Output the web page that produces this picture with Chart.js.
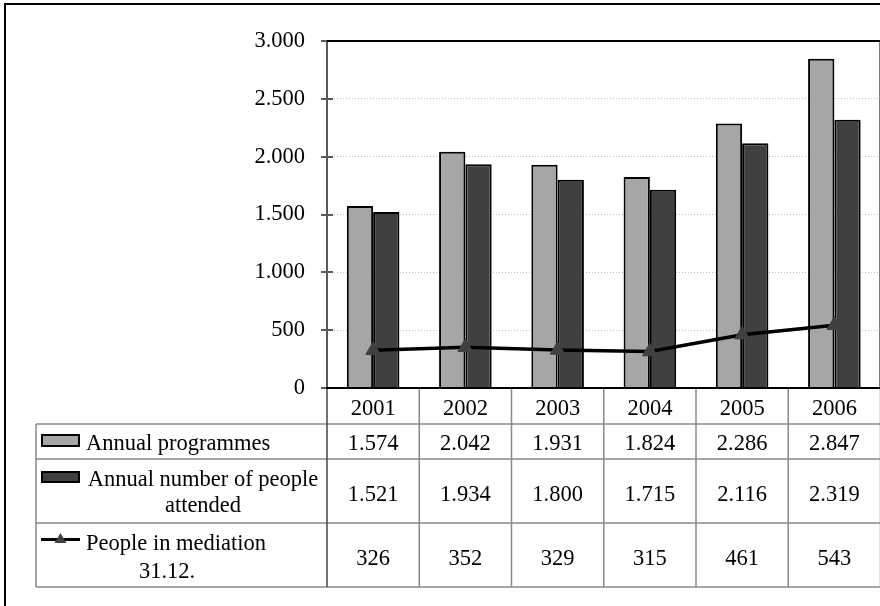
<!DOCTYPE html>
<html>
<head>
<meta charset="utf-8">
<script src="https://cdn.jsdelivr.net/npm/chart.js@4.4.1/dist/chart.umd.min.js"></script>
<style>
  html, body { margin: 0; padding: 0; background: #fff; overflow: hidden; }
  canvas { display: block; }
</style>
</head>
<body>
<canvas id="mediationChart" width="890" height="606"></canvas>
<script>
const years = ['2001', '2002', '2003', '2004', '2005', '2006'];
const programmes = [1574, 2042, 1931, 1824, 2286, 2847];
const attended = [1521, 1934, 1800, 1715, 2116, 2319];
const mediation = [326, 352, 329, 315, 461, 543];

const SERIF = '"Liberation Serif", "Times New Roman", serif';
const FONT = '22.5px ' + SERIF;

// 2847 -> "2.847"
function fmt(v) {
    if (v < 1000) return String(v);
    return Math.floor(v / 1000) + '.' + String(v % 1000).padStart(3, '0');
}

// frame, axis ticks and the data table under the plot
const tablePlugin = {
    id: 'dataTable',
    afterDraw(chart) {
        const ctx = chart.ctx;
        const area = chart.chartArea;
        const xs = chart.scales.x;
        const ys = chart.scales.y;
        const step = xs.getPixelForValue(1) - xs.getPixelForValue(0);
        const rowTops = [area.bottom, 424, 459, 523, 587];
        const labelLeft = 36;
        ctx.save();

        // outer frame
        ctx.strokeStyle = '#000';
        ctx.lineWidth = 2;
        ctx.strokeRect(5, 4, 1000, 800);

        // y tick marks crossing the axis
        ctx.strokeStyle = '#595959';
        ctx.lineWidth = 2;
        ys.ticks.forEach(t => {
            const y = Math.round(ys.getPixelForValue(t.value));
            ctx.beginPath();
            ctx.moveTo(area.left - 6, y);
            ctx.lineTo(area.left + 6, y);
            ctx.stroke();
        });

        // table grid
        ctx.strokeStyle = '#8a8a8a';
        ctx.lineWidth = 1.5;
        for (let r = 1; r < rowTops.length; r++) {
            ctx.beginPath();
            ctx.moveTo(labelLeft, rowTops[r]);
            ctx.lineTo(chart.width, rowTops[r]);
            ctx.stroke();
        }
        ctx.beginPath();
        ctx.moveTo(labelLeft, rowTops[1]);
        ctx.lineTo(labelLeft, rowTops[4]);
        ctx.stroke();
        years.forEach((_, i) => {
            const bx = xs.getPixelForValue(i) + step / 2;
            ctx.beginPath();
            ctx.moveTo(bx, area.bottom);
            ctx.lineTo(bx, rowTops[4]);
            ctx.stroke();
        });
        ctx.strokeStyle = '#444';
        ctx.beginPath();
        ctx.moveTo(area.left, area.bottom);
        ctx.lineTo(area.left, rowTops[4]);
        ctx.stroke();

        // plot frame: top and bottom in black
        ctx.strokeStyle = '#000';
        ctx.lineWidth = 2;
        ctx.beginPath();
        ctx.moveTo(area.left, area.top);
        ctx.lineTo(area.right, area.top);
        ctx.lineTo(area.right, area.bottom);
        ctx.lineTo(area.left - 1, area.bottom);
        ctx.stroke();

        // table text
        ctx.font = FONT;
        ctx.fillStyle = '#000';
        ctx.textAlign = 'center';
        ctx.textBaseline = 'alphabetic';
        years.forEach((yr, i) => {
            const cx = xs.getPixelForValue(i);
            ctx.fillText(yr, cx, 415);
            ctx.fillText(fmt(programmes[i]), cx, 450);
            ctx.fillText(fmt(attended[i]), cx, 501);
            ctx.fillText(fmt(mediation[i]), cx, 565);
        });

        // row labels with legend keys
        ctx.textAlign = 'left';
        ctx.fillText('Annual programmes', 86, 450);
        ctx.textAlign = 'center';
        ctx.fillText('Annual number of people', 203, 486);
        ctx.fillText('attended', 203, 512);
        ctx.fillText('People in mediation', 176, 550);
        ctx.fillText('31.12.', 167, 578);

        ctx.lineWidth = 2;
        ctx.strokeStyle = '#000';
        ctx.fillStyle = '#a6a6a6';
        ctx.fillRect(42, 435, 37, 11);
        ctx.strokeRect(42, 435, 37, 11);
        ctx.fillStyle = '#404040';
        ctx.fillRect(42, 472, 37, 10);
        ctx.strokeRect(42, 472, 37, 10);

        ctx.lineWidth = 3;
        ctx.beginPath();
        ctx.moveTo(41, 539.5);
        ctx.lineTo(80, 539.5);
        ctx.stroke();
        ctx.fillStyle = '#404040';
        ctx.beginPath();
        ctx.moveTo(60.5, 533);
        ctx.lineTo(66.5, 543);
        ctx.lineTo(54.5, 543);
        ctx.closePath();
        ctx.fill();

        ctx.restore();
    }
};

const ctx = document.getElementById('mediationChart').getContext('2d');
new Chart(ctx, {
    data: {
        labels: years,
        datasets: [
            {
                type: 'line',
                label: 'People in mediation 31.12.',
                data: mediation,
                borderColor: '#000',
                borderWidth: 3.5,
                tension: 0,
                pointStyle: 'triangle',
                pointRadius: 8.5,
                pointBackgroundColor: '#404040',
                pointBorderColor: '#404040',
                pointBorderWidth: 1,
                order: 0
            },
            {
                type: 'bar',
                label: 'Annual programmes',
                data: programmes,
                backgroundColor: '#a6a6a6',
                borderColor: '#000',
                borderWidth: 2,
                categoryPercentage: 0.57,
                barPercentage: 1.0,
                order: 1
            },
            {
                type: 'bar',
                label: 'Annual number of people attended',
                data: attended,
                backgroundColor: '#404040',
                borderColor: '#000',
                borderWidth: 2,
                categoryPercentage: 0.57,
                barPercentage: 1.0,
                order: 1
            }
        ]
    },
    options: {
        responsive: false,
        animation: false,
        devicePixelRatio: 1,
        layout: { padding: { left: 0, top: 41, right: 7.6, bottom: 218 } },
        plugins: {
            legend: { display: false },
            tooltip: { enabled: false }
        },
        scales: {
            x: { display: false },
            y: {
                min: 0,
                max: 3000,
                afterFit(scale) { scale.width = 327; },
                ticks: {
                    stepSize: 500,
                    padding: 22,
                    color: '#000',
                    font: { family: SERIF, size: 22.5 },
                    callback: v => fmt(v)
                },
                grid: { color: '#bdbdbd', lineWidth: 1, drawTicks: false },
                border: { color: '#595959', width: 2, dash: [1, 2] }
            }
        }
    },
    plugins: [tablePlugin]
});
</script>
</body>
</html>
